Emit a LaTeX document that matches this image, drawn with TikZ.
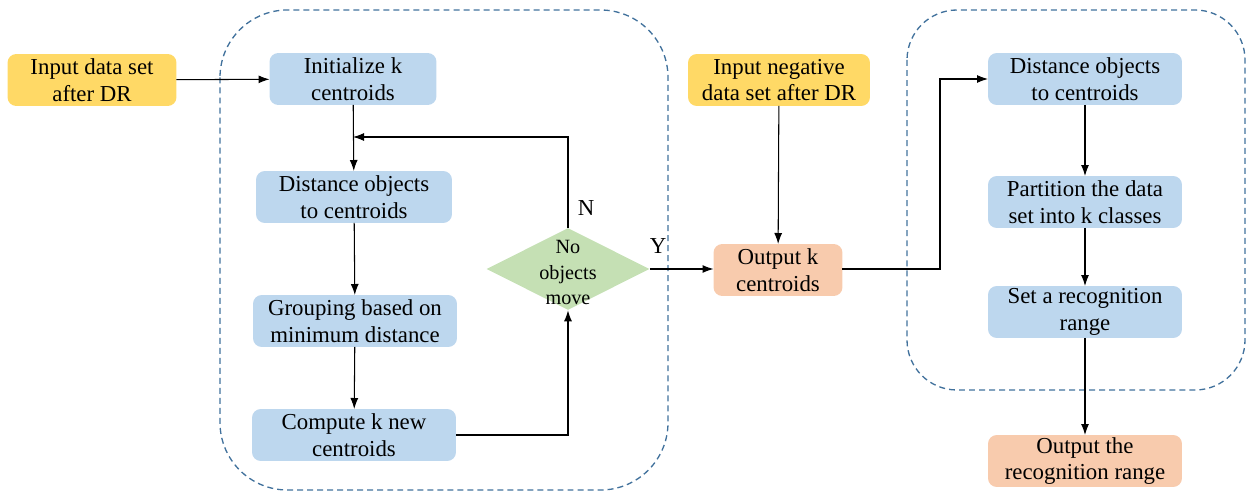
\documentclass[tikz,border=0pt]{standalone}
\usepackage{fontspec}
\setmainfont{Liberation Serif}
\usetikzlibrary{positioning,shapes.geometric,arrows.meta}
\definecolor{inyellow}{HTML}{FFD966}
\definecolor{stepblue}{HTML}{BDD7EE}
\definecolor{outorange}{HTML}{F8CBAD}
\definecolor{decgreen}{HTML}{C5E0B4}
\definecolor{groupline}{HTML}{41719C}
\tikzset{
    flow box/.style={
        rectangle,
        minimum height=1.04cm,
        rounded corners=5pt,
        draw=none,
        inner sep=0pt,
        outer sep=0pt,
        align=center,
        font=\rmfamily\fontsize{13}{15.3}\selectfont
    },
    input box/.style={flow box, fill=inyellow},
    step box/.style={flow box, fill=stepblue},
    output box/.style={flow box, fill=outorange},
    decision/.style={
        diamond,
        fill=decgreen,
        draw=none,
        inner sep=0pt,
        minimum width=3.26cm,
        minimum height=1.64cm
    },
    flow arrow/.style={-{Latex[length=2.2mm,width=1.6mm]}, line width=0.6pt},
    group frame/.style={draw=groupline, line width=0.75pt, dash pattern=on 3.4pt off 2.3pt},
    branch label/.style={font=\rmfamily\fontsize{13}{15}\selectfont}
}

\begin{document}
\begin{tikzpicture}[x=0.02cm, y=-0.02cm]
\useasboundingbox (0,0) rectangle (1247,496);

% dashed groups
\draw[group frame, rounded corners=1.35cm] (220,10) rectangle (668,490);
\draw[group frame, rounded corners=1cm] (907,10) rectangle (1245,390);

% clustering part
\node[input box, minimum width=3.38cm] (in1) at (92,80) {Input data set\\after DR};
\node[step box, minimum width=3.34cm] (init) at (353,79) {Initialize k\\centroids};
\node[step box, minimum width=3.92cm] (dist1) at (354,197) {Distance objects\\to centroids};
\node[step box, minimum width=4.08cm] (group) at (355,321) {Grouping based on\\minimum distance};
\node[step box, minimum width=4.08cm] (comp) at (354,435) {Compute k new\\centroids};
\node[decision, label={[font=\rmfamily\fontsize{11.5}{14.5}\selectfont, align=center, yshift=-2pt]center:No\\objects\\move}] (dec) at (568,269) {};

% recognition part
\node[input box, minimum width=3.64cm] (neg) at (779,80) {Input negative\\data set after DR};
\node[output box, minimum width=2.58cm] (outk) at (778,270) {Output k\\centroids};
\node[step box, minimum width=3.88cm] (dist2) at (1085,79) {Distance objects\\to centroids};
\node[step box, minimum width=3.88cm] (part) at (1085,202) {Partition the data\\set into k classes};
\node[step box, minimum width=3.88cm] (range) at (1085,312) {Set a recognition\\range};
\node[output box, minimum width=3.88cm] (outr) at (1085,461) {Output the\\recognition range};

\coordinate (back) at (init.south |- 0,137);
\coordinate (turn) at (940,269);

\draw[flow arrow] (in1) -- (init);
\draw[flow arrow] (init) -- (dist1);
\draw[flow arrow] (dist1) -- (group);
\draw[flow arrow] (group) -- (comp);
\draw[flow arrow] (comp.east) -| (dec.south);
\draw[flow arrow] (dec.north) |- (back);
\draw[flow arrow] (dec.east) -- (outk.west |- dec.east);
\draw[flow arrow] (neg) -- (outk);
\draw[flow arrow] (outk.east |- turn) -- (turn) |- (dist2.west);
\draw[flow arrow] (dist2) -- (part);
\draw[flow arrow] (part) -- (range);
\draw[flow arrow] (range) -- (outr);

\node[branch label] (nlabel) at (586,208) {N};
\node[branch label] (ylabel) at (658,246) {Y};

\end{tikzpicture}
\end{document}
